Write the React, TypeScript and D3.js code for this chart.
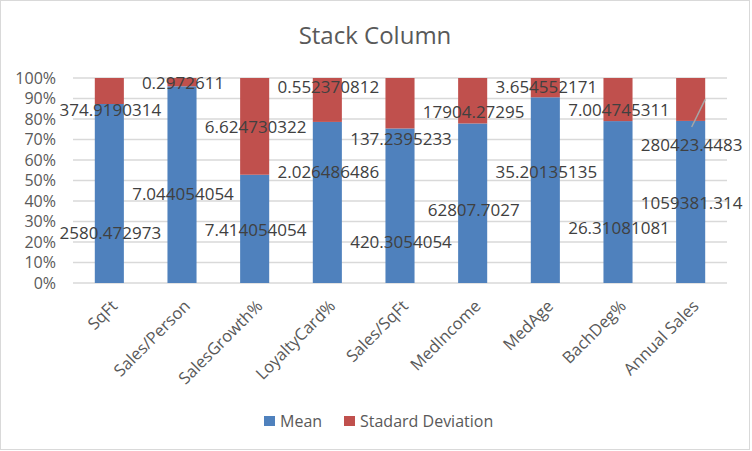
import React from 'react';
import * as d3 from 'd3';

// Chart data
const categories = ['SqFt', 'Sales/Person', 'SalesGrowth%', 'LoyaltyCard%', 'Sales/SqFt', 'MedIncome', 'MedAge', 'BachDeg%', 'Annual Sales'];
const meanValues = [2580.472973, 7.044054054, 7.414054054, 2.026486486, 420.3054054, 62807.7027, 35.20135135, 26.31081081, 1059381.314];
const stdValues = [374.9190314, 0.2972611, 6.624730322, 0.552370812, 137.2395233, 17904.27295, 3.654552171, 7.004745311, 280423.4483];
// where each data label sits, as a share of the column (labels were dragged in the original)
const meanLabelAt = [0.244, 0.434, 0.259, 0.541, 0.2, 0.356, 0.541, 0.268, 0.39];
const stdLabelAt = [0.844, 0.976, 0.761, 0.956, 0.702, 0.834, 0.956, 0.844, 0.673];
const yTicks = [0, 0.1, 0.2, 0.3, 0.4, 0.5, 0.6, 0.7, 0.8, 0.9, 1];
const seriesNames = ['Mean', 'Stadard Deviation'];
const colors = ['#4F81BD', '#C0504D'];

const width = 752;
const height = 451;
const margin = { top: 78, right: 25, bottom: 168, left: 73 };
const font = '"Open Sans", sans-serif';

export default function App() {
  const rows = categories.map((c, i) => ({ cat: c, mean: meanValues[i], std: stdValues[i] }));
  const stack = d3.stack<any>().keys(['mean', 'std']).offset(d3.stackOffsetExpand);
  const layers = stack(rows);

  const x = d3.scaleBand().domain(categories).range([margin.left, width - margin.right]).paddingInner(0.6).paddingOuter(0.3);
  const y = d3.scaleLinear().domain([0, 1]).range([height - margin.bottom, margin.top]);
  const fmt = d3.format('.0%');

  const last = categories.length - 1;
  const lastCx = x(categories[last])! + x.bandwidth() / 2;
  const lastStd = layers[1][last];

  return (
    <svg width={width} height={height} style={{ position: 'absolute', left: 0, top: 0, background: '#fff' }} fontFamily={font}>
      <rect x={0.5} y={0.5} width={749} height={449} fill="#fff" stroke="#D9D9D9" />
      <text x={375} y={44} textAnchor="middle" fontSize={24} fill="#595959">Stack Column</text>

      {/* gridlines and y labels */}
      {yTicks.map(t => (
        <g key={t}>
          <line x1={margin.left} x2={width - margin.right} y1={y(t)} y2={y(t)} stroke="#D9D9D9" strokeWidth={1.5} />
          <text x={56} y={y(t)} dy="0.35em" textAnchor="end" fontSize={16} fill="#595959">{fmt(t)}</text>
        </g>
      ))}

      {/* columns */}
      {layers.map((layer, li) => (
        <g key={li} fill={colors[li]}>
          {layer.map((d, i) => (
            <rect key={i} x={x(categories[i])} width={x.bandwidth()} y={y(d[1])} height={y(d[0]) - y(d[1])} />
          ))}
        </g>
      ))}

      {/* leader line for the moved label */}
      <line x1={lastCx + 1} y1={y(stdLabelAt[last]) - 18} x2={x(categories[last])! + x.bandwidth()} y2={y((lastStd[0] + lastStd[1]) / 2)} stroke="#A6A6A6" strokeWidth={1.5} />

      {/* data labels */}
      {categories.map((c, i) => {
        const cx = x(c)! + x.bandwidth() / 2;
        return (
          <g key={c} fontSize={17} fill="#404040" textAnchor="middle">
            <text x={cx + 1} y={y(meanLabelAt[i])} dy="0.35em">{meanValues[i]}</text>
            <text x={cx + 1} y={y(stdLabelAt[i])} dy="0.35em">{stdValues[i]}</text>
          </g>
        );
      })}

      {/* category labels */}
      {categories.map(c => {
        const cx = x(c)! + x.bandwidth() / 2;
        return (
          <text key={c} transform={`translate(${cx + 5},${303}) rotate(-45)`} dy="0.35em" textAnchor="end" fontSize={16.5} fill="#595959">{c}</text>
        );
      })}

      {/* legend */}
      {seriesNames.map((s, i) => {
        const lx = i === 0 ? 264 : 344;
        return (
          <g key={s}>
            <rect x={lx} y={416} width={11} height={10} fill={colors[i]} />
            <text x={lx + 16} y={427} fontSize={16} fill="#595959">{s}</text>
          </g>
        );
      })}
    </svg>
  );
}
